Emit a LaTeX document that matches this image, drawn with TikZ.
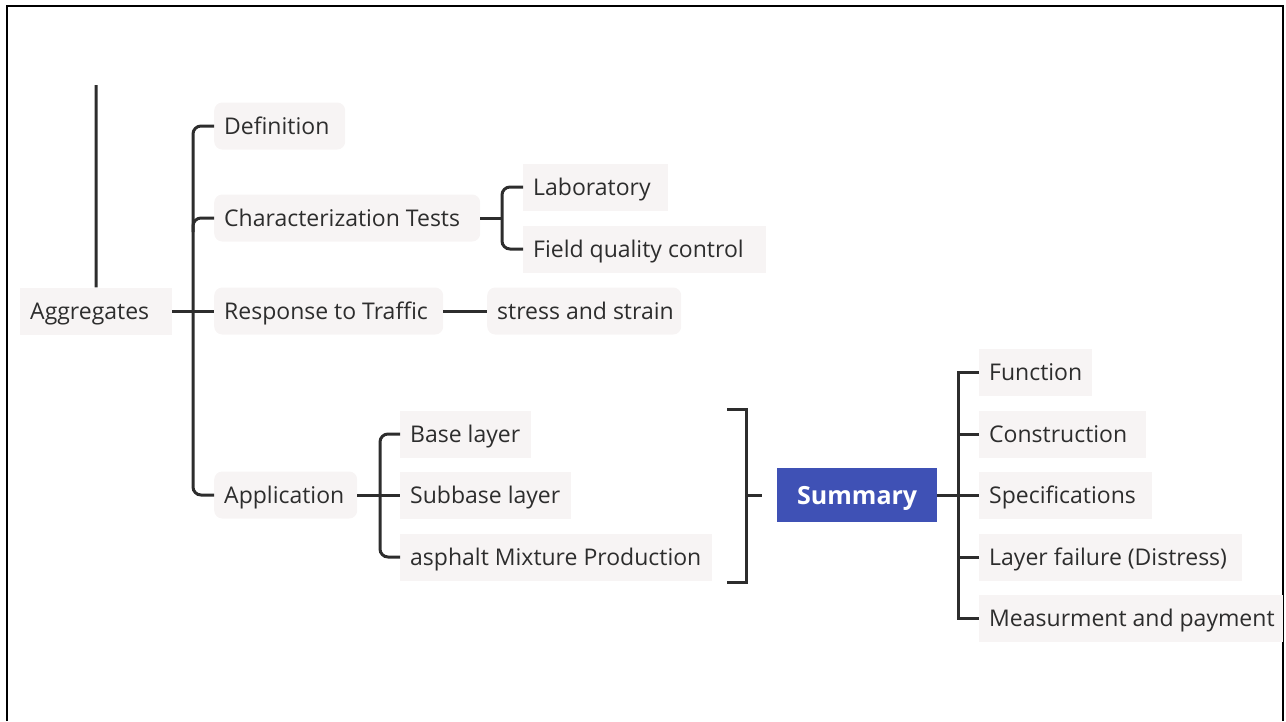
\documentclass[tikz,border=0pt]{standalone}
\usepackage{fontspec}
\setmainfont{Open Sans}
\usetikzlibrary{calc}
\definecolor{boxfill}{RGB}{247,244,244}
\definecolor{ink}{RGB}{45,45,45}
\definecolor{sumblue}{RGB}{63,81,181}
\newcommand\lbl[2]{\makebox[#1pt][l]{#2}}
\tikzset{
  conn/.style={draw=ink, line width=3pt},
  tbox/.style={fill=boxfill, anchor=west, inner xsep=10pt, inner ysep=0pt, minimum height=47pt, text height=16.5pt, text depth=0pt, text=ink, font=\fontsize{23}{28}\selectfont},
  rbox/.style={tbox, rounded corners=8pt},
  sumbox/.style={fill=sumblue, anchor=west, inner sep=0pt, minimum height=54pt, minimum width=160pt, text height=18pt, text depth=0pt, text=white, font=\fontsize{25}{30}\selectfont\bfseries},
  frame/.style={draw=black, line width=2.5pt}
}
\begin{document}
\begin{tikzpicture}[x=1pt,y=-1pt]
\useasboundingbox (0,0) rectangle (1286,721);
\draw[frame] (7,721) -- (7,6) -- (1283,6) -- (1283,721);

% nodes
\node[tbox] (agg) at (20,311) {\lbl{132}{Aggregates}};
\node[rbox] (def) at (214,126) {\lbl{111}{Definition}};
\node[rbox] (char) at (214,218) {\lbl{246}{Characterization Tests}};
\node[rbox] (resp) at (214,311) {\lbl{209}{Response to Traffic}};
\node[rbox] (app) at (214,495) {\lbl{123}{Application}};
\node[tbox] (lab) at (523,187) {\lbl{125}{Laboratory}};
\node[tbox] (field) at (523,249) {\lbl{223}{Field quality control}};
\node[rbox] (stress) at (487,311) {\lbl{174}{stress and strain}};
\node[tbox] (base) at (400,434) {\lbl{111}{Base layer}};
\node[tbox] (sub) at (400,495) {\lbl{151}{Subbase layer}};
\node[tbox] (asp) at (400,557) {\lbl{292}{asphalt Mixture Production}};
\node[sumbox] (sum) at (777,495) {Summary};
\node[tbox] (fun) at (979,372) {\lbl{93}{Function}};
\node[tbox] (cons) at (979,434) {\lbl{147}{Construction}};
\node[tbox] (spec) at (979,495) {\lbl{153}{Specifications}};
\node[tbox] (lay) at (979,557) {\lbl{243}{Layer failure (Distress)}};
\node[tbox] (meas) at (979,618) {\lbl{284}{Measurment and payment}};

% helper coordinates
\coordinate (aggtop) at (96,85);
\coordinate (spL) at (193,311);
\coordinate (spC) at (502,218);
\coordinate (spA) at (380,495);
\coordinate (spS) at (958,495);
\coordinate (brT) at (727,409);
\coordinate (brB) at (727,582);
\coordinate (brTR) at (746,409);
\coordinate (brBR) at (746,582);
\coordinate (brM) at (746,495);
\coordinate (brEnd) at (762,495);

% connectors
\draw[conn] (agg.north) -- (aggtop);
\draw[conn] (agg.east) -- (resp.west);
\draw[conn, rounded corners=8pt] (def.west) -| (spL) |- (app.west);
\draw[conn, rounded corners=8pt] ($(spL|-char.west)+(0,14)$) -- (spL|-char.west) -- (char.west);

\draw[conn] (char.east) -- (spC);
\draw[conn, rounded corners=8pt] (lab.west) -| (spC) |- (field.west);

\draw[conn] (resp.east) -- (stress.west);

\draw[conn] (app.east) -- (sub.west);
\draw[conn, rounded corners=8pt] (base.west) -| (spA) |- (asp.west);

\draw[conn] (brT) -- (brTR) -- (brBR) -- (brB);
\draw[conn] (brM) -- (brEnd);

\draw[conn] (sum.east) -- (spec.west);
\draw[conn] (fun.west) -| (spS) |- (meas.west);
\draw[conn] (cons.west) -- (cons.west -| spS);
\draw[conn] (lay.west) -- (lay.west -| spS);
\end{tikzpicture}
\end{document}
